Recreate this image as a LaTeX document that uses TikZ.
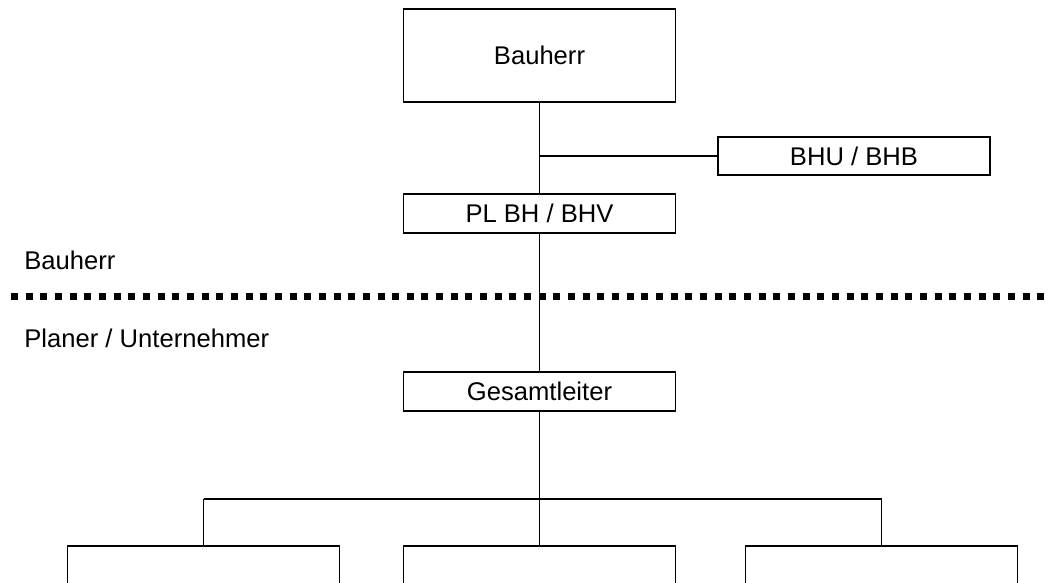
\documentclass[tikz,border=0pt]{standalone}
\usepackage{fontspec}
\setmainfont{Liberation Sans}
\begin{document}
\begin{tikzpicture}[x=0.5pt,y=-0.5pt]
			% Styles
			\tikzstyle{trait}=[-,line width=0.85pt]
			\tikzstyle{boite}=[draw,line width=0.85pt,minimum width=136pt,minimum height=19.25pt,inner sep=0pt,font=\fontsize{12.8}{15}\selectfont]
			\tikzstyle{grande}=[minimum height=46.5pt]
			\tikzstyle{ouverte}=[minimum height=40pt]
			\tikzstyle{etiquette}=[anchor=west,inner sep=0pt,font=\fontsize{12.8}{15}\selectfont]
			\tikzstyle{separation}=[line width=3.5pt,dash pattern=on 3.5pt off 3.83pt]
			% Dimensions
			\def\Milieu{539.5}
			\def\NiveauBarre{499}
			% Cadre
			\clip (0,0) rectangle (1051,583);
			% Noeuds
			\node[boite,grande] (BH) at (\Milieu,55.5) {Bauherr};
			\node[boite] (BHU) at (854,156) {BHU / BHB};
			\node[boite] (PL) at (\Milieu,213.5) {PL BH / BHV};
			\node[boite] (GL) at (\Milieu,391.5) {Gesamtleiter};
			\node[boite,ouverte] (Ua) at (203.5,586) {};
			\node[boite,ouverte] (Ub) at (\Milieu,586) {};
			\node[boite,ouverte] (Uc) at (881.5,586) {};
			\node[etiquette] (LBH) at (24,260) {Bauherr};
			\node[etiquette] (LPU) at (24,338) {Planer / Unternehmer};
			\coordinate (Sa) at (11,297);
			\coordinate (Sb) at (1045,297);
			\coordinate (T) at (\Milieu,\NiveauBarre);
			% Arcs
			\draw[trait] (BH)--(PL);
			\draw[trait] (BH.south |- BHU.west)--(BHU.west);
			\draw[trait] (PL)--(GL);
			\draw[trait] (GL)--(T);
			\draw[trait] (Ua.north |- T)--(Uc.north |- T);
			\draw[trait] (T -| Ua.north)--(Ua.north);
			\draw[trait] (T)--(Ub.north);
			\draw[trait] (T -| Uc.north)--(Uc.north);
			% Separation
			\draw[separation] (Sa)--(Sb);
		\end{tikzpicture}
\end{document}
